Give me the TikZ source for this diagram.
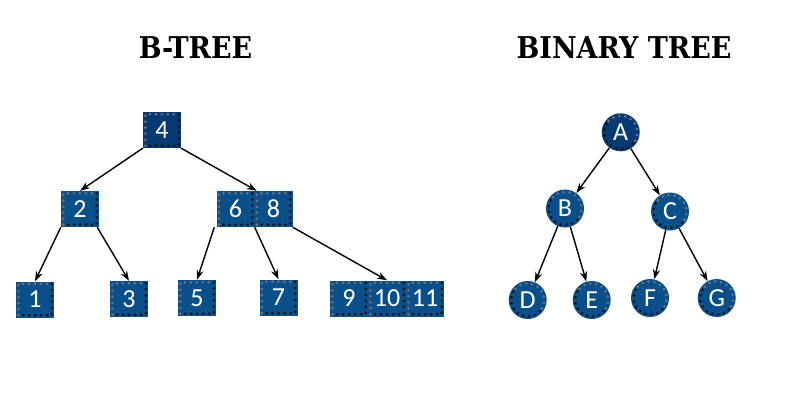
\documentclass[tikz,border=0pt]{standalone}
\usepackage{fontspec}
\usetikzlibrary{arrows.meta}
\newfontfamily\nodefnt{Carlito}
\newfontfamily\titlefnt{DejaVu Serif Condensed}
\definecolor{bfill}{HTML}{0B4F8A}
\definecolor{rfill}{HTML}{073A72}
\definecolor{dotgray}{HTML}{707070}
\definecolor{dotblack}{HTML}{111111}
\tikzset{
  keybox/.style={rectangle, fill=bfill, minimum width=38pt, minimum height=36pt,
    inner sep=0pt, text=white, font=\nodefnt\fontsize{26}{28}\selectfont},
  keycirc/.style={circle, fill=bfill, minimum size=38pt,
    inner sep=0pt, text=white, font=\nodefnt\fontsize{26}{28}\selectfont},
  rootfill/.style={fill=rfill},
  gdots/.style={draw=dotgray, line width=3pt, line cap=round, dash pattern=on 0pt off 6pt},
  kdots/.style={draw=dotblack, line width=3pt, line cap=round, dash pattern=on 0pt off 6pt},
  link/.style={draw=black, line width=1.4pt, -{Stealth[length=10pt,width=7pt]}},
  ttl/.style={font=\titlefnt\bfseries\fontsize{30}{33}\selectfont, text=black}
}
\newcommand\mykeyframe[1]{%
  \draw[gdots] ([xshift=2.5pt,yshift=2.5pt]#1.south west) -- ([xshift=2.5pt,yshift=-2.5pt]#1.north west) -- ([xshift=-2.5pt,yshift=-2.5pt]#1.north east);
  \draw[kdots] ([xshift=-2.5pt,yshift=-2.5pt]#1.north east) -- ([xshift=-2.5pt,yshift=2.5pt]#1.south east) -- ([xshift=2.5pt,yshift=2.5pt]#1.south west);
}
\newcommand\mycircframe[1]{%
  \draw[gdots] ([shift={(-30:16.5pt)}]#1.center) arc[start angle=-30, end angle=150, radius=16.5pt];
  \draw[kdots] ([shift={(150:16.5pt)}]#1.center) arc[start angle=150, end angle=330, radius=16.5pt];
}
\begin{document}
\begin{tikzpicture}[x=1pt,y=-1pt]
\useasboundingbox (0,0) rectangle (800,400);
% titles
\node[ttl] (t1) at (195.5,48) {B-TREE};
\node[ttl] (t2) at (624,48) {BINARY TREE};
% B-tree nodes
\node[keybox,rootfill] (n4) at (162,130) {4};
\node[keybox] (n2) at (80,209) {2};
\node[keybox] (n6) at (235.5,209) {6};
\node[keybox] (n8) at (273.5,209) {8};
\node[keybox] (n1) at (35,299.5) {1};
\node[keybox] (n3) at (129,299) {3};
\node[keybox] (n5) at (197,298) {5};
\node[keybox] (n7) at (278.5,297.5) {7};
\node[keybox] (n9) at (349,298.5) {9};
\node[keybox] (n10) at (387,298.5) {10};
\node[keybox] (n11) at (425,298.5) {11};
\foreach \n in {n4,n2,n6,n8,n1,n3,n5,n7,n9,n10,n11}{\mykeyframe{\n}}
% B-tree links
\draw[link] (n4.south west) -- (n2.north);
\draw[link] (n4.south east) -- ([xshift=2pt]n6.north east);
\draw[link] (n2.south west) -- (n1.north);
\draw[link] ([xshift=-2pt]n2.south east) -- (n3.north);
\draw[link] ([xshift=-2pt]n6.south west) -- (n5.north);
\draw[link] (n6.south east) -- (n7.north);
\draw[link] (n8.south east) -- (n10.north);
% Binary tree nodes
\node[keycirc,rootfill] (A) at (620.7,132.3) {A};
\node[keycirc] (B) at (565,208.5) {B};
\node[keycirc] (C) at (670,211.5) {C};
\node[keycirc] (D) at (527.7,300) {D};
\node[keycirc] (E) at (591.7,300) {E};
\node[keycirc] (F) at (650,298) {F};
\node[keycirc] (G) at (716.7,298) {G};
\foreach \n in {A,B,C,D,E,F,G}{\mycircframe{\n}}
% Binary tree links
\draw[link] (A) -- (B);
\draw[link] (A) -- (C);
\draw[link] (B) -- (D);
\draw[link] (B) -- (E);
\draw[link] (C) -- (F);
\draw[link] (C) -- (G);
\end{tikzpicture}
\end{document}
